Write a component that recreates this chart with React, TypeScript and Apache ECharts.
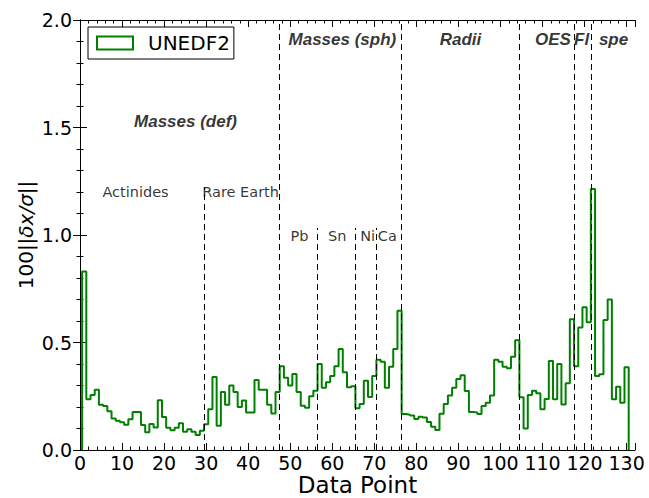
import React, { useEffect, useRef } from "react";
import * as echarts from "echarts";

const seriesName = "UNEDF2";
// value of each data point, points 1..130 (each bin spans i-0.5 .. i+0.5)
const binValues = [
  0.83, 0.236, 0.256, 0.28, 0.21, 0.205, 0.18, 0.147, 0.136, 0.129,
  0.118, 0.143, 0.177, 0.177, 0.116, 0.082, 0.121, 0.105, 0.231, 0.153,
  0.104, 0.092, 0.104, 0.124, 0.085, 0.096, 0.085, 0.07, 0.09, 0.12,
  0.19, 0.34, 0.113, 0.27, 0.21, 0.3, 0.27, 0.2, 0.23, 0.175,
  0.175, 0.326, 0.28, 0.28, 0.21, 0.17, 0.27, 0.39, 0.336, 0.3,
  0.354, 0.27, 0.206, 0.197, 0.25, 0.276, 0.4, 0.29, 0.315, 0.344,
  0.39, 0.47, 0.362, 0.292, 0.296, 0.194, 0.214, 0.322, 0.246, 0.344,
  0.42, 0.41, 0.29, 0.387, 0.47, 0.648, 0.167, 0.164, 0.16, 0.144,
  0.155, 0.151, 0.13, 0.108, 0.093, 0.169, 0.214, 0.253, 0.29, 0.33,
  0.348, 0.274, 0.177, 0.175, 0.167, 0.205, 0.22, 0.253, 0.42, 0.41,
  0.387, 0.38, 0.434, 0.51, 0.245, 0.1, 0.256, 0.276, 0.264, 0.19,
  0.237, 0.414, 0.236, 0.4, 0.212, 0.31, 0.608, 0.39, 0.57, 0.664,
  0.594, 1.214, 0.344, 0.352, 0.605, 0.7, 0.236, 0.294, 0.22, 0.385,
];

const boundaryX = [29.5, 47.5, 56.5, 65.5, 70.5, 76.5, 104.5, 117.5, 121.5];
const boundaryTop = [1.222, 2.0, 1.033, 1.033, 1.033, 2.0, 2.0, 2.0, 2.0];

const groupLabels = ["Masses (def)", "Masses (sph)", "Radii", "OES", "Fl", "spe"];
const groupLabelX = [25.1, 62.4, 90.5, 112.5, 119.3, 126.9];
const groupLabelY = [1.526, 1.907, 1.907, 1.907, 1.907, 1.907];

const subLabels = ["Actinides", "Rare Earth", "Pb", "Sn", "Ni", "Ca"];
const subLabelX = [13.2, 38.2, 52.2, 61.2, 68.4, 73.1];
const subLabelY = [1.2, 1.2, 0.995, 0.995, 0.995, 0.995];

const X_MIN = 0;
const X_MAX = 132;
const Y_MIN = 0;
const Y_MAX = 2;

export default function App() {
  const ref = useRef<HTMLDivElement>(null);

  useEffect(() => {
    if (!ref.current) return;
    const chart = echarts.init(ref.current, undefined, { renderer: "svg" });

    const stepData: number[][] = [[0.5, 0]];
    binValues.forEach((v, i) => stepData.push([i + 1 - 0.5, v]));
    stepData.push([binValues.length + 0.5, 0]);

    const tickFont = { fontFamily: "DejaVu Sans", fontSize: 19, lineHeight: 18, color: "#000" };
    const black = { color: "#000", width: 1 };

    const groupData = groupLabels.map((n, i) => ({
      value: [groupLabelX[i], groupLabelY[i]],
      label: {
        show: true,
        position: "inside",
        formatter: n,
        fontFamily: "Liberation Sans",
        fontStyle: "italic",
        fontWeight: "bold",
        fontSize: 17,
        color: "#000",
      },
    }));
    const subData = subLabels.map((n, i) => ({
      value: [subLabelX[i], subLabelY[i]],
      label: {
        show: true,
        position: "inside",
        formatter: n,
        fontFamily: "DejaVu Sans",
        fontSize: 14.5,
        color: "#000",
      },
    }));

    chart.setOption({
      animation: false,
      backgroundColor: "#fff",
      grid: {
        left: 80,
        right: 14,
        top: 20,
        bottom: 48,
        containLabel: false,
        outerBoundsMode: "none",
      },
      legend: {
        data: [{ name: seriesName, icon: "rect" }],
        left: 88,
        top: 27,
        orient: "vertical",
        itemWidth: 36,
        itemHeight: 13,
        padding: [6, 4, 6, 8],
        borderColor: "#000",
        borderWidth: 1,
        borderRadius: 0,
        selectedMode: false,
        itemStyle: { color: "rgba(0,0,0,0)", borderColor: "#008000", borderWidth: 2 },
        textStyle: { fontFamily: "DejaVu Sans", fontSize: 20, color: "#000", padding: [0, 0, 0, 10] },
      },
      xAxis: [
        {
          type: "value",
          position: "bottom",
          min: X_MIN,
          max: X_MAX,
          interval: 10,
          name: "Data Point",
          nameLocation: "middle",
          nameGap: 23,
          nameMoveOverlap: false,
          nameTextStyle: {
            fontFamily: "DejaVu Sans",
            fontSize: 23,
            lineHeight: 23,
            color: "#000",
            verticalAlign: "top",
          },
          axisLine: { show: true, lineStyle: black },
          axisTick: { show: true, inside: true, length: 7, lineStyle: black },
          splitLine: { show: false },
          axisLabel: {
            ...tickFont,
            margin: 4,
            formatter: (v: number) => (v % 10 === 0 ? String(v) : ""),
          },
        },
        {
          type: "value",
          position: "bottom",
          min: X_MIN,
          max: X_MAX,
          interval: 2,
          axisLine: { show: false },
          axisTick: { show: true, inside: true, length: 3.5, lineStyle: black },
          axisLabel: { show: false },
          splitLine: { show: false },
        },
        {
          type: "value",
          position: "top",
          min: X_MIN,
          max: X_MAX,
          interval: 10,
          axisLine: { show: true, lineStyle: black },
          axisTick: { show: true, inside: true, length: 7, lineStyle: black },
          axisLabel: { show: false },
          splitLine: { show: false },
        },
        {
          type: "value",
          position: "top",
          min: X_MIN,
          max: X_MAX,
          interval: 2,
          axisLine: { show: false },
          axisTick: { show: true, inside: true, length: 3.5, lineStyle: black },
          axisLabel: { show: false },
          splitLine: { show: false },
        },
      ],
      yAxis: [
        {
          type: "value",
          position: "left",
          min: Y_MIN,
          max: Y_MAX,
          interval: 0.5,
          name: "{a|100||}{b|δx/σ}{a|||}",
          nameLocation: "middle",
          nameRotate: 90,
          nameGap: 44,
          nameMoveOverlap: false,
          nameTextStyle: {
            rich: {
              a: { fontFamily: "DejaVu Sans", fontSize: 20, color: "#000" },
              b: { fontFamily: "DejaVu Sans", fontStyle: "italic", fontSize: 20, color: "#000" },
            },
          },
          axisLine: { show: true, lineStyle: black },
          axisTick: { show: true, inside: true, length: 7, lineStyle: black },
          minorTick: { show: true, splitNumber: 5, length: 3.5, lineStyle: black },
          splitLine: { show: false },
          axisLabel: { ...tickFont, margin: 8, formatter: (v: number) => v.toFixed(1) },
        },
        {
          type: "value",
          position: "right",
          min: Y_MIN,
          max: Y_MAX,
          interval: 0.5,
          axisLine: { show: true, lineStyle: black },
          axisTick: { show: true, inside: true, length: 7, lineStyle: black },
          minorTick: { show: true, splitNumber: 5, length: 3.5, lineStyle: black },
          splitLine: { show: false },
          axisLabel: { show: false },
        },
      ],
      series: [
        {
          name: seriesName,
          type: "line",
          xAxisIndex: 0,
          yAxisIndex: 0,
          step: "end",
          symbol: "none",
          data: stepData,
          lineStyle: { color: "#008000", width: 2 },
          itemStyle: { color: "#008000" },
          markLine: {
            silent: true,
            symbol: ["none", "none"],
            label: { show: false },
            lineStyle: { color: "#000", type: [6, 4], width: 1 },
            emphasis: { disabled: true },
            data: boundaryX.map((b, i) => [
              { coord: [b, 0] },
              { coord: [b, boundaryTop[i]] },
            ]),
          },
          z: 3,
        },
        {
          name: "groups",
          type: "scatter",
          symbolSize: 0,
          silent: true,
          data: groupData,
          z: 4,
        },
        {
          name: "subgroups",
          type: "scatter",
          symbolSize: 0,
          silent: true,
          data: subData,
          z: 4,
        },
      ],
    });

    return () => chart.dispose();
  }, []);

  return (
    <div
      ref={ref}
      style={{ position: "absolute", left: 0, top: 0, width: 649, height: 498 }}
    />
  );
}
